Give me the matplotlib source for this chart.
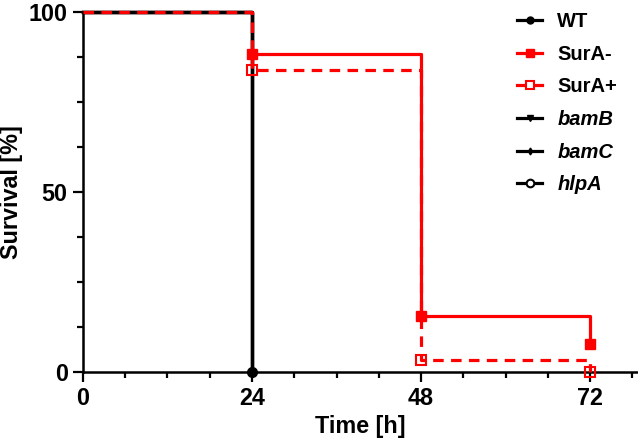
import numpy as np
import matplotlib.pyplot as plt
from matplotlib.ticker import MultipleLocator

plt.rcParams['font.family'] = ['Liberation Sans', 'DejaVu Sans']
plt.rcParams['font.weight'] = 'bold'

# Survival data (Kaplan-Meier steps)
times = [0, 24, 48, 72]
sura_minus = [100, 88.5, 15.4, 7.7]
sura_plus = [100, 83.9, 3.2, 0]
black_times = [0, 24]
wt = [100, 0]
bamB = [100, 0]
bamC = [100, 0]
hlpA = [100, 0]

fig = plt.figure(figsize=(6.38, 4.44), dpi=100)
ax = fig.add_axes([0.13, 0.163, 0.868, 0.809])

lw = 2.3
red = '#ff0000'

ax.plot(times, sura_minus, drawstyle='steps-post', color=red, lw=lw, zorder=2, clip_on=False)
for y in [wt, bamB, bamC, hlpA]:
    ax.plot(black_times, y, drawstyle='steps-post', color='black', lw=lw, zorder=3, clip_on=False)
ax.plot(times, sura_plus, drawstyle='steps-post', color=red, lw=lw, dashes=(3.3, 2.3),
        zorder=4, clip_on=False)

# markers
ax.plot(times[1:], sura_minus[1:], 's', color=red, ms=6.5, zorder=6, clip_on=False)
ax.plot(times[1:], sura_plus[1:], 's', mec=red, mfc='none', mew=1.5, ms=7, zorder=6, clip_on=False)
ax.plot(black_times[1:], wt[1:], 'o', color='black', ms=7, zorder=7, clip_on=False)

# legend handles
handles = [
    plt.Line2D([], [], color='black', lw=lw, marker='o', ms=5),
    plt.Line2D([], [], color=red, lw=lw, marker='s', ms=5.5),
    plt.Line2D([], [], color=red, lw=lw, marker='s', ms=6, mfc='white', mew=1.5),
    plt.Line2D([], [], color='black', lw=lw, marker='v', ms=4.5),
    plt.Line2D([], [], color='black', lw=lw, marker='d', ms=3.5),
    plt.Line2D([], [], color='black', lw=lw, marker='o', ms=5.5, mfc='white', mew=1.5),
]
labels = ['WT', 'SurA-', 'SurA+', 'bamB', 'bamC', 'hlpA']
leg = ax.legend(handles, labels, frameon=False, fontsize=14.5, handlelength=1.25,
                handletextpad=0.75, labelspacing=0.68, loc='upper left',
                bbox_to_anchor=(517 / 638, 1 - 12 / 444), bbox_transform=fig.transFigure,
                borderaxespad=0, borderpad=0)
for t in leg.get_texts()[3:]:
    t.set_style('italic')

ax.set_xlim(0, 78.6)
ax.set_ylim(0, 100)
ax.set_xticks([0, 24, 48, 72])
ax.xaxis.set_minor_locator(MultipleLocator(6))
ax.set_yticks([0, 50, 100])
ax.yaxis.set_minor_locator(MultipleLocator(12.5))
ax.tick_params(which='major', length=7, width=1.6, labelsize=16.8, pad=4)
ax.tick_params(which='minor', length=4, width=1.6)
for s in ['top', 'right']:
    ax.spines[s].set_visible(False)
for s in ['left', 'bottom']:
    ax.spines[s].set_linewidth(1.8)

ax.set_xlabel('Time [h]', fontsize=16.8, fontweight='bold', labelpad=4)
ax.set_ylabel('Survival [%]', fontsize=16.8, fontweight='bold', labelpad=4)

fig.savefig('out.png', dpi=100)
